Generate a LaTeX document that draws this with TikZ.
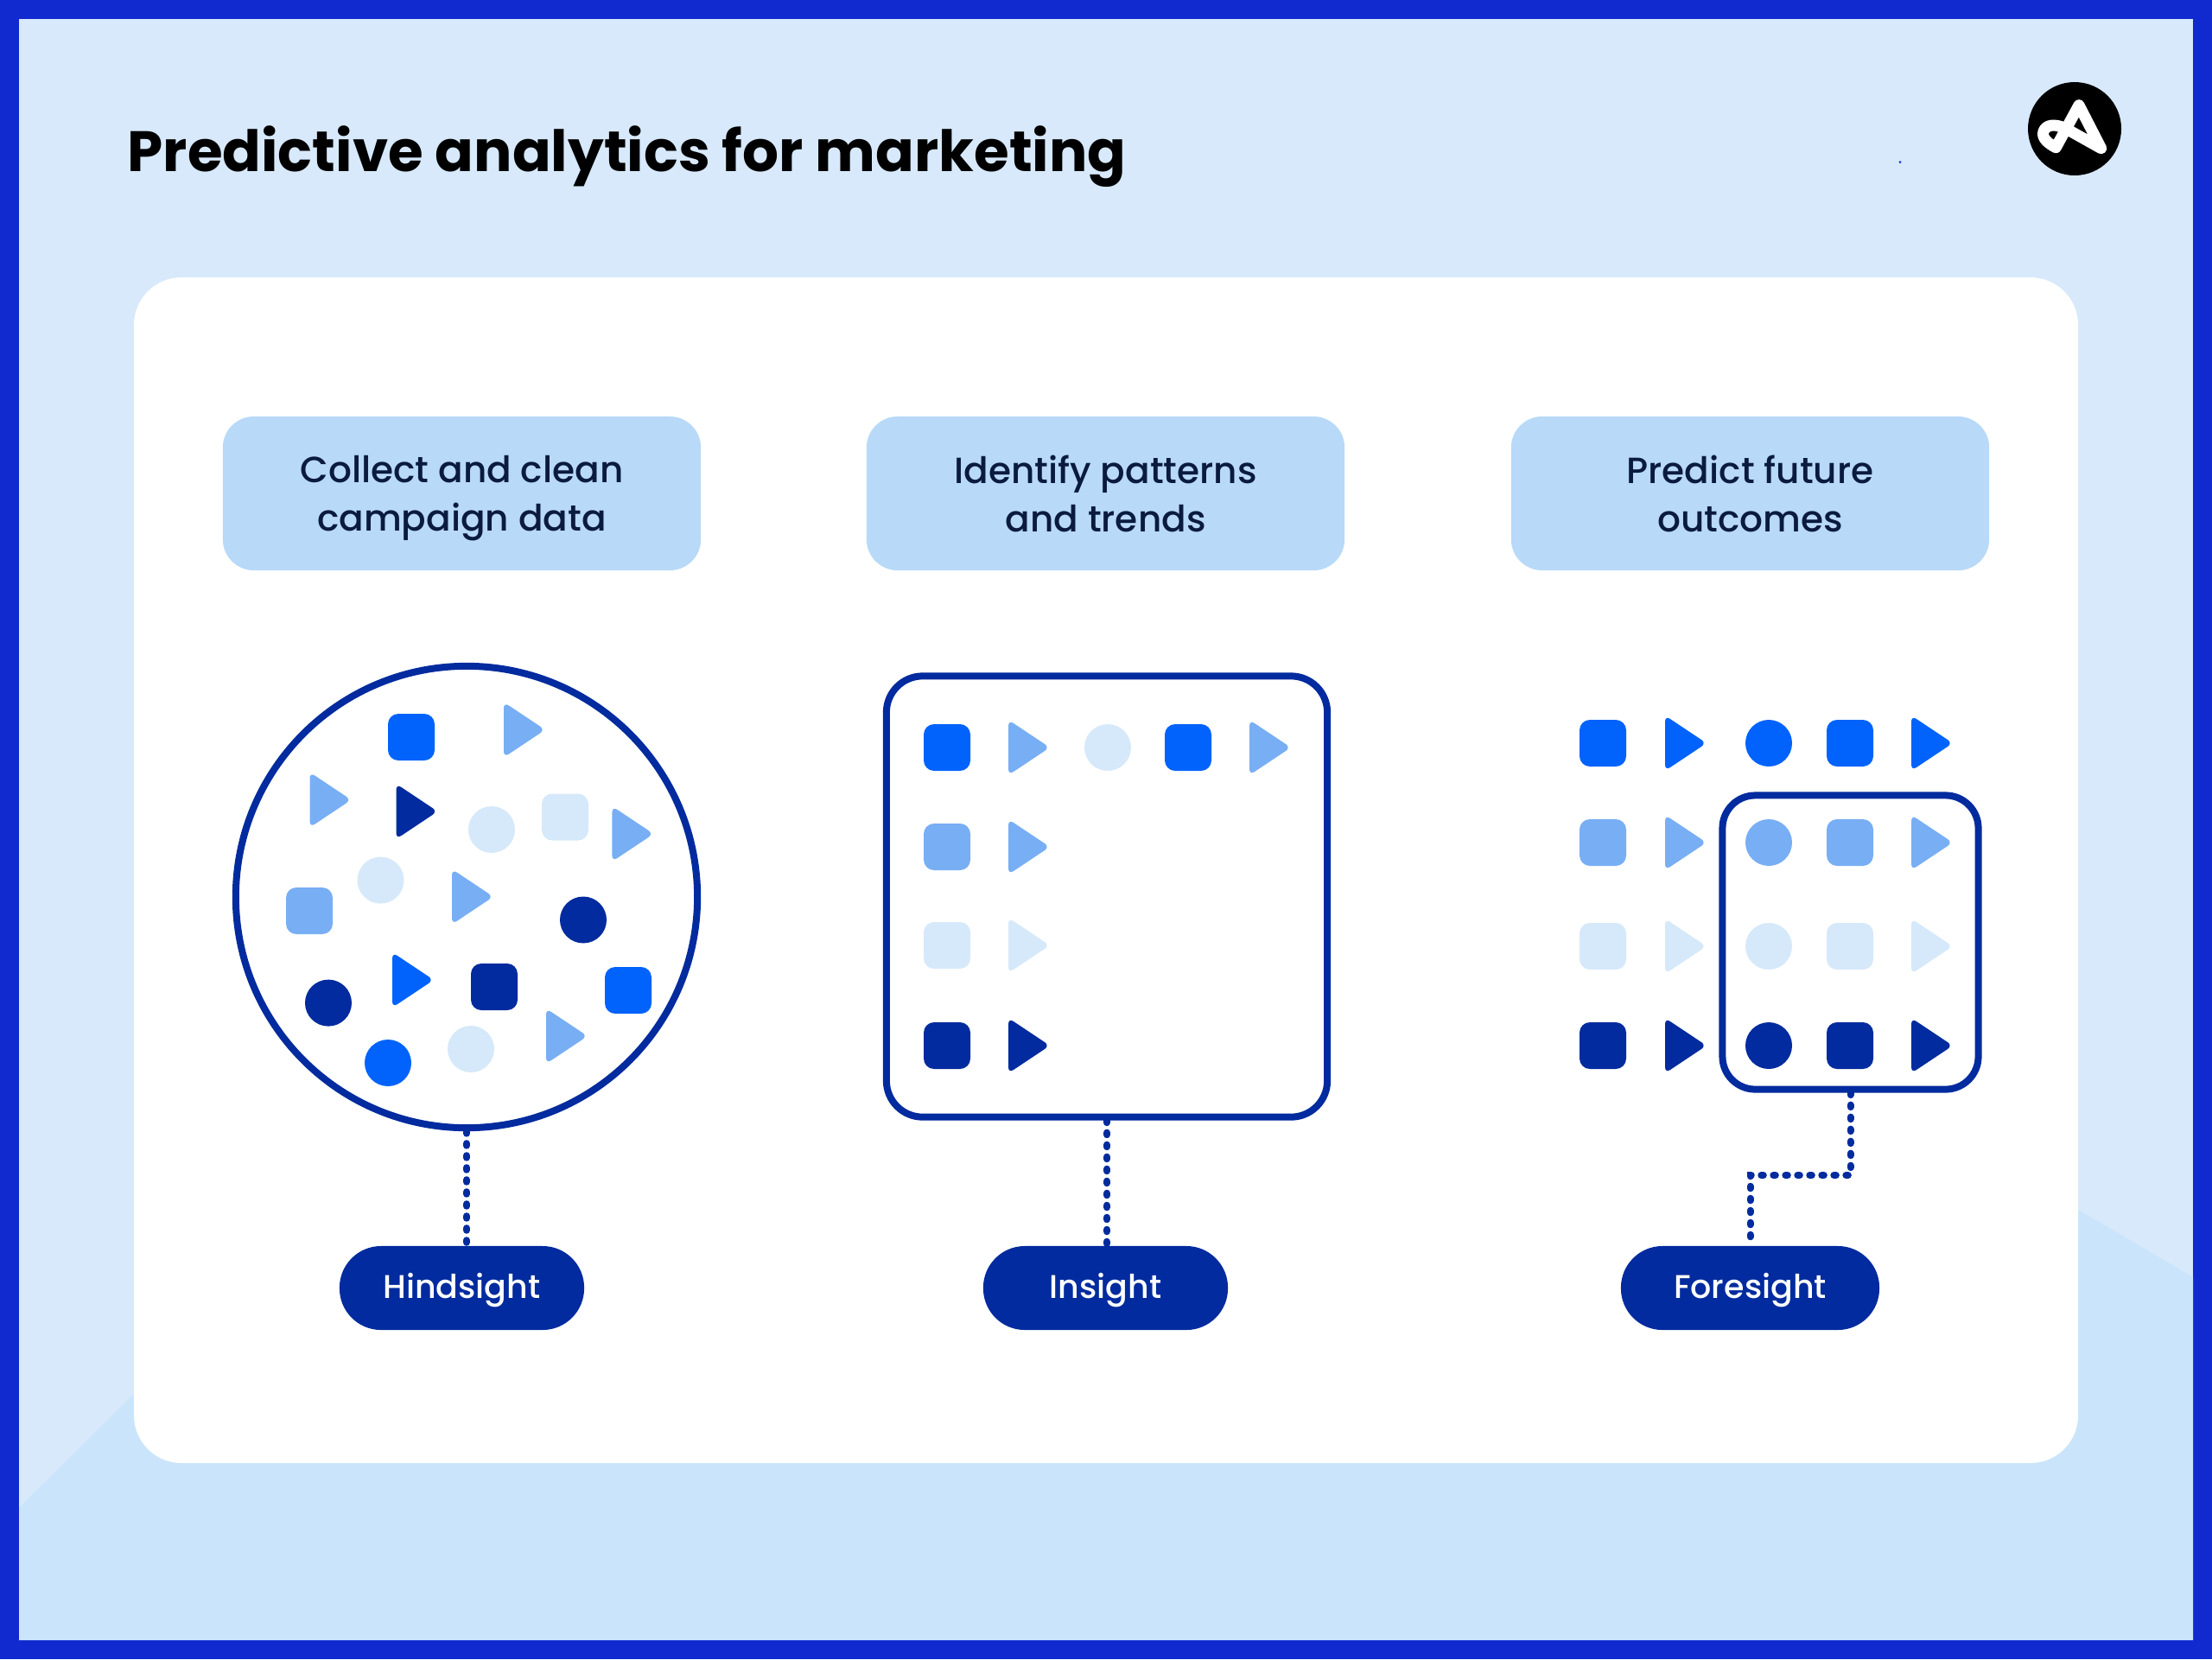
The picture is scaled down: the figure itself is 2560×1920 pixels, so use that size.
\documentclass[tikz,border=0pt]{standalone}
\usepackage{xcolor}
\usepackage{fontspec}
\setmainfont{Poppins}[UprightFont={* Medium},BoldFont={* Bold}]

\definecolor{frameBlue}{HTML}{102AD0}
\definecolor{paleBack}{HTML}{D7E9FA}
\definecolor{lowBack}{HTML}{CAE5FB}
\definecolor{headBlue}{HTML}{B8D9F8}
\definecolor{markBlue}{HTML}{0163FB}
\definecolor{midBlue}{HTML}{78AEF4}
\definecolor{paleBlue}{HTML}{D6E9FA}
\definecolor{darkBlue}{HTML}{012B9E}
\definecolor{inkNavy}{HTML}{0A1B3F}

\tikzset{
	headBox/.style={fill=headBlue,rounded corners=0.36cm,minimum width=5.53cm,minimum height=1.78cm,align=center,text=inkNavy,text depth=0pt,font=\fontsize{12}{15.9}\selectfont},
	pillBox/.style={fill=darkBlue,rounded corners=0.48cm,minimum height=0.97cm,text=white,text height=0.3cm,text depth=0.06cm,font=\fontsize{10.8}{14}\selectfont},
	frameLine/.style={draw=darkBlue,line width=0.08cm},
	dotLine/.style={darkBlue,line width=0.08cm,line cap=round,dash pattern=on 0.025cm off 0.115cm},
	pics/tokSq/.style={code={\fill[rounded corners=0.12cm] (-27,-27) rectangle (27,27);}},
	pics/tokDot/.style={code={\fill (0,0) circle (27);}},
	pics/tokTri/.style={code={\fill[rounded corners=0.07cm] (-22,-32) -- (26,0) -- (-22,32) -- cycle;}},
}

\begin{document}
\begin{tikzpicture}[x=0.01cm,y=-0.01cm]
			\useasboundingbox (0,0) rectangle (2560,1920);
			\fill[frameBlue] (0,0) rectangle (2560,1920);
			\fill[paleBack] (22,22) rectangle (2538,1898);
			\fill[lowBack] (22,1745) -- (155,1613) -- (2405,1400) -- (2538,1478) -- (2538,1898) -- (22,1898) -- cycle;
			\fill[white,rounded corners=0.55cm] (155,321) rectangle (2405,1693);
			
			\node[anchor=base west,font=\fontsize{18.75}{24}\selectfont\bfseries,text=black,inner sep=0pt] (title) at (147,198) {Predictive analytics for marketing};
			
			\fill[black] (2401,149) circle (54);
			\draw[white,line width=0.13cm,line cap=round,line join=round] (2431.7,171.7) -- (2406,121.7) -- (2379.3,170.7) .. controls (2372,167) and (2362,160) .. (2365,152) .. controls (2368,144) and (2378,143) .. (2390,148.3) -- cycle;
			\fill[frameBlue] (2199,187.7) circle (1.5);
			
			\node[headBox] (headCollect) at (534.5,571) {Collect and clean\\campaign data};
			\node[headBox] (headIdentify) at (1279.5,571) {Identify patterns\\and trends};
			\node[headBox] (headPredict) at (2025.5,571) {Predict future\\outcomes};
			
			% hindsight
			\node[frameLine,circle,minimum size=5.34cm] (ring) at (540,1038) {};
			\pic[markBlue] at (476,853) {tokSq};
			\pic[midBlue] at (605,844.5) {tokTri};
			\pic[midBlue] at (380.5,925.6) {tokTri};
			\pic[darkBlue] at (480.5,939) {tokTri};
			\pic[paleBlue] at (569,960) {tokDot};
			\pic[paleBlue] at (654,945.5) {tokSq};
			\pic[midBlue] at (730.4,965) {tokTri};
			\pic[paleBlue] at (440.5,1018.6) {tokDot};
			\pic[midBlue] at (358,1054) {tokSq};
			\pic[midBlue] at (545,1037.7) {tokTri};
			\pic[darkBlue] at (675,1064.5) {tokDot};
			\pic[markBlue] at (476,1134) {tokTri};
			\pic[darkBlue] at (572,1142) {tokSq};
			\pic[markBlue] at (727,1146) {tokSq};
			\pic[darkBlue] at (380,1160.6) {tokDot};
			\pic[midBlue] at (654,1199) {tokTri};
			\pic[markBlue] at (449,1230) {tokDot};
			\pic[paleBlue] at (545,1214) {tokDot};
			
			% insight
			\node[frameLine,rounded corners=0.42cm,minimum size=5.1cm] (square) at (1281,1037.5) {};
			\pic[markBlue] at (1096,865) {tokSq};
			\pic[midBlue] at (1189,865) {tokTri};
			\pic[paleBlue] at (1282,865) {tokDot};
			\pic[markBlue] at (1375,865) {tokSq};
			\pic[midBlue] at (1468,865) {tokTri};
			\pic[midBlue] at (1096,980) {tokSq};
			\pic[midBlue] at (1189,980) {tokTri};
			\pic[paleBlue] at (1096,1094) {tokSq};
			\pic[paleBlue] at (1189,1094) {tokTri};
			\pic[darkBlue] at (1096,1210) {tokSq};
			\pic[darkBlue] at (1189,1210) {tokTri};
			
			% foresight
			\node[frameLine,rounded corners=0.38cm,minimum width=2.96cm,minimum height=3.4cm] (corner) at (2141.5,1090.5) {};
			\pic[markBlue] at (1855,860) {tokSq};
			\pic[markBlue] at (1949,860) {tokTri};
			\pic[markBlue] at (2047,860) {tokDot};
			\pic[markBlue] at (2141,860) {tokSq};
			\pic[markBlue] at (2234,860) {tokTri};
			\pic[midBlue] at (1855,975) {tokSq};
			\pic[midBlue] at (1949,975) {tokTri};
			\pic[midBlue] at (2047,975) {tokDot};
			\pic[midBlue] at (2141,975) {tokSq};
			\pic[midBlue] at (2234,975) {tokTri};
			\pic[paleBlue] at (1855,1095) {tokSq};
			\pic[paleBlue] at (1949,1095) {tokTri};
			\pic[paleBlue] at (2047,1095) {tokDot};
			\pic[paleBlue] at (2141,1095) {tokSq};
			\pic[paleBlue] at (2234,1095) {tokTri};
			\pic[darkBlue] at (1855,1210) {tokSq};
			\pic[darkBlue] at (1949,1210) {tokTri};
			\pic[darkBlue] at (2047,1210) {tokDot};
			\pic[darkBlue] at (2141,1210) {tokSq};
			\pic[darkBlue] at (2234,1210) {tokTri};
			
			\node[pillBox,minimum width=2.83cm] (pillHind) at (534.5,1490.5) {Hindsight};
			\node[pillBox,minimum width=2.83cm] (pillIn) at (1279.5,1490.5) {Insight};
			\node[pillBox,minimum width=2.99cm] (pillFore) at (2025.5,1490.5) {Foresight};
			
			\coordinate (foreBend) at (2141.5,1360);
			\draw[dotLine] (ring.south) -- (ring.south |- pillHind.north);
			\draw[dotLine] (square.south) -- (square.south |- pillIn.north);
			\draw[dotLine] (corner.south) -- (foreBend) -| (pillFore.north);
		\end{tikzpicture}
\end{document}
